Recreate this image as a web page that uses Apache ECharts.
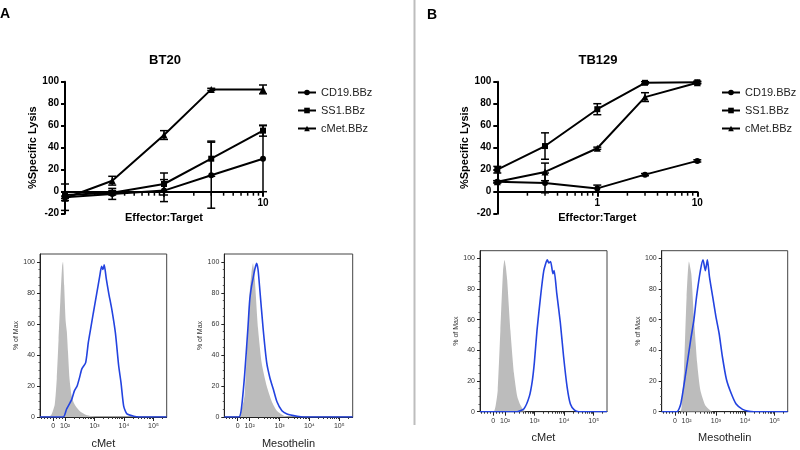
<!DOCTYPE html>
<html><head><meta charset="utf-8">
<script src="https://cdn.jsdelivr.net/npm/echarts@6/dist/echarts.min.js"></script>
<style>html,body{margin:0;padding:0;background:#fff}#c{width:800px;height:450px}</style>
</head><body><div id="c"></div>
<script>
// ---------- data ----------
const seriesNames = ['CD19.BBz', 'SS1.BBz', 'cMet.BBz'];
const etRatio = [0.1, 0.3, 1, 3, 10];
const logMinorTicks = [0.2, 0.3, 0.4, 0.5, 0.6, 0.7, 0.8, 0.9, 2, 3, 4, 5, 6, 7, 8, 9];

// BT20
const bt20CD19 = [-5, -2, 1, 15, 30];
const bt20CD19Err = [12, 5, 10, 30, 30];
const bt20SS1 = [-3, -1, 7, 30, 55.5];
const bt20SS1Err = [3, 2, 10, 16, 5];
const bt20cMet = [-6, 10, 51.5, 93, 93];
const bt20cMetErr = [2, 4, 4, 1, 4];

// TB129
const tb129CD19 = [9, 8, 3, 15.5, 28];
const tb129CD19Err = [1, 9, 3, 1, 1];
const tb129SS1 = [20, 41.5, 75, 99, 99.5];
const tb129SS1Err = [3, 12, 5, 1, 1];
const tb129cMet = [9, 18, 39.5, 86, 99];
const tb129cMetErr = [1, 8, 1, 4, 1];

// flow histograms: x in display decades (10^k -> k), y in % of max
const flowTickPos = [1.6, 2, 3, 4, 5];
const flowTickLabels = ['0', '10²', '10³', '10⁴', '10⁵'];
const flowMinorTicks = [1.2, 1.3, 1.4, 1.5, 1.7, 1.8, 1.9,
  2.301, 2.477, 2.602, 2.699, 2.778, 2.845, 2.903, 2.954,
  3.301, 3.477, 3.602, 3.699, 3.778, 3.845, 3.903, 3.954,
  4.301, 4.477, 4.602, 4.699, 4.778, 4.845, 4.903, 4.954, 5.301];
const flowYTicks = [0, 20, 40, 60, 80, 100];
const flowYMinorTicks = [5, 10, 15, 25, 30, 35, 45, 50, 55, 65, 70, 75, 85, 90, 95];

const bt20cMetGray = [[1.15,0],[1.45,0],[1.55,2],[1.65,8],[1.72,25],[1.78,50],[1.84,75],[1.9,97],[1.93,100],[1.97,85],[2.02,62],[2.06,55],[2.1,42],[2.15,25],[2.22,14],[2.3,9],[2.4,6],[2.55,3],[2.7,1.5],[2.9,0.5],[3.1,0],[5.45,0]];
const bt20cMetBlue = [[1.15,0],[1.94,0],[2.05,5],[2.22,11],[2.32,17],[2.41,20],[2.5,26],[2.57,31],[2.7,35],[2.79,48],[2.88,58],[2.96,67],[3.07,79],[3.18,91],[3.24,97],[3.29,95],[3.33,98],[3.4,89],[3.48,80],[3.59,69],[3.71,54],[3.82,33],[3.9,22],[3.99,7],[4.1,2],[4.33,0.5],[4.5,0],[5.45,0]];
const bt20MesoGray = [[1.15,0],[1.6,0],[1.72,4],[1.83,14],[1.94,57],[2.0,80],[2.06,93],[2.11,99],[2.17,89],[2.28,57],[2.4,35],[2.57,20],[2.74,10],[2.91,4],[3.13,1],[3.3,0],[5.45,0]];
const bt20MesoBlue = [[1.15,0],[1.64,0],[1.72,5],[1.83,27],[1.94,57],[2.0,75],[2.06,84],[2.11,89],[2.17,95],[2.23,99],[2.28,95],[2.34,82],[2.45,57],[2.57,35],[2.68,25],[2.79,18],[2.91,10],[3.08,4],[3.25,2],[3.59,0.5],[3.8,0],[5.45,0]];
const tb129cMetGray = [[1.15,0],[1.61,0],[1.68,4],[1.75,14],[1.84,53],[1.93,92],[1.98,99],[2.02,95],[2.07,86],[2.18,53],[2.3,25],[2.41,10],[2.5,5],[2.59,2],[2.7,0],[5.45,0]];
const tb129cMetBlue = [[1.15,0],[2.41,0],[2.64,2],[2.82,10],[2.92,20],[2.99,32],[3.08,53],[3.2,75],[3.31,92],[3.43,99],[3.48,97],[3.54,98],[3.62,90],[3.66,92],[3.75,77],[3.87,58],[3.98,36],[4.1,16],[4.21,5],[4.35,1],[4.5,0],[5.45,0]];
const tb129MesoGray = [[1.15,0],[1.78,0],[1.85,10],[1.91,27],[2.0,75],[2.08,98],[2.16,90],[2.25,62],[2.36,32],[2.47,14],[2.64,4],[2.8,1],[2.9,0],[5.45,0]];
const tb129MesoBlue = [[1.15,0],[1.67,0],[1.8,5],[1.97,25],[2.14,47],[2.25,60],[2.34,75],[2.47,92],[2.56,99],[2.64,92],[2.71,99],[2.78,88],[2.89,75],[3.0,62],[3.11,51],[3.22,36],[3.36,21],[3.52,12],[3.69,5],[3.91,1.5],[4.13,0.2],[4.3,0],[5.45,0]];

// ---------- build ----------
const FONT = 'Liberation Sans, Arial, sans-serif';
const symbols = ['circle', 'rect', 'triangle'];
const symbolSizes = [6, 6, 7];
const LINE_H = 132, Y_MIN = -20, Y_MAX = 100;

const chart = echarts.init(document.getElementById('c'), null, {renderer: 'canvas'});

const grids = [
  {left: 65, width: 198, top: 81.7, height: LINE_H},
  {left: 497.3, width: 200, top: 81.7, height: LINE_H},
  {left: 40, width: 126.7, top: 254, height: 164.3},
  {left: 224.3, width: 128.4, top: 254, height: 164.3},
  {left: 480, width: 127, top: 250.7, height: 161},
  {left: 661.7, width: 126, top: 250.7, height: 161}
];
grids.forEach((g, i) => {
  if (i >= 2) { g.show = true; g.borderColor = '#444'; g.borderWidth = 1; g.backgroundColor = 'transparent'; }
});

// x axis sits on y = 0 (GraphPad style): shift it up from the grid bottom
const zeroOffset = -LINE_H * (0 - Y_MIN) / (Y_MAX - Y_MIN);

function lineXAxis(gi, labels) {
  return {
    type: 'log', logBase: 10, gridIndex: gi, min: 0.1, max: 10, offset: zeroOffset,
    axisLine: {onZero: false, lineStyle: {color: '#000', width: 2}},
    axisTick: {length: 5, lineStyle: {color: '#000', width: 2}},
    splitLine: {show: false},
    axisLabel: {fontFamily: FONT, fontWeight: 'bold', fontSize: 10, color: '#000', margin: 7,
      formatter: v => labels.indexOf(String(v)) >= 0 ? String(v) : ''},
    name: 'Effector:Target', nameLocation: 'middle', nameGap: 21,
    nameTextStyle: {fontFamily: FONT, fontWeight: 'bold', fontSize: 11, color: '#000'}
  };
}
function lineYAxis(gi, gap) {
  return {
    type: 'value', gridIndex: gi, min: Y_MIN, max: Y_MAX, interval: 20,
    axisLine: {show: true, onZero: false, lineStyle: {color: '#000', width: 2}},
    axisTick: {show: true, length: 4, lineStyle: {color: '#000', width: 2}},
    splitLine: {show: false},
    axisLabel: {fontFamily: FONT, fontWeight: 'bold', fontSize: 10, color: '#000', margin: 6},
    name: '%Specific Lysis', nameLocation: 'middle', nameGap: gap,
    nameTextStyle: {fontFamily: FONT, fontWeight: 'bold', fontSize: 11, color: '#000'}
  };
}
function flowXAxis(gi, name) {
  return {
    type: 'value', gridIndex: gi, min: 1.15, max: 5.45,
    axisLine: {onZero: false, lineStyle: {color: '#222', width: 1}},
    axisTick: {customValues: flowTickPos, length: 4, lineStyle: {color: '#222'}},
    splitLine: {show: false},
    axisLabel: {customValues: flowTickPos, fontFamily: FONT, fontSize: 7, color: '#333', margin: 6,
      formatter: v => { const k = flowTickPos.indexOf(v); return k >= 0 ? flowTickLabels[k] : ''; }},
    name: name, nameLocation: 'middle', nameGap: 21,
    nameTextStyle: {fontFamily: FONT, fontSize: 11, color: '#222'}
  };
}
function flowMinorXAxis(gi) {
  return {
    type: 'value', gridIndex: gi, min: 1.15, max: 5.45, position: 'bottom',
    axisLine: {show: false, onZero: false}, splitLine: {show: false}, axisLabel: {show: false},
    axisTick: {customValues: flowMinorTicks, length: 2, lineStyle: {color: '#333'}}
  };
}
function flowYAxis(gi) {
  return {
    type: 'value', gridIndex: gi, min: 0, max: 105,
    axisLine: {show: true, onZero: false, lineStyle: {color: '#222', width: 1}},
    axisTick: {show: true, customValues: flowYTicks, length: 3, lineStyle: {color: '#222'}},
    splitLine: {show: false},
    axisLabel: {customValues: flowYTicks, fontFamily: FONT, fontSize: 7, color: '#333', margin: 5},
    name: '% of Max', nameLocation: 'middle', nameGap: 16,
    nameTextStyle: {fontFamily: FONT, fontSize: 7, color: '#333'}
  };
}
function flowMinorYAxis(gi) {
  return {
    type: 'value', gridIndex: gi, min: 0, max: 105, position: 'left',
    axisLine: {show: false, onZero: false}, splitLine: {show: false}, axisLabel: {show: false},
    axisTick: {show: true, customValues: flowYMinorTicks, length: 1.5, lineStyle: {color: '#555'}}
  };
}

const xAxes = [
  lineXAxis(0, ['10']),
  lineXAxis(1, ['1', '10']),
  flowXAxis(2, 'cMet'), flowXAxis(3, 'Mesothelin'), flowXAxis(4, 'cMet'), flowXAxis(5, 'Mesothelin'),
  flowMinorXAxis(2), flowMinorXAxis(3), flowMinorXAxis(4), flowMinorXAxis(5)
];
const yAxes = [lineYAxis(0, 26), lineYAxis(1, 22), flowYAxis(2), flowYAxis(3), flowYAxis(4), flowYAxis(5),
  flowMinorYAxis(2), flowMinorYAxis(3), flowMinorYAxis(4), flowMinorYAxis(5)];

const series = [];
function addLineChart(idx, vals, errs) {
  vals.forEach((v, s) => {
    series.push({
      type: 'line', name: seriesNames[s], xAxisIndex: idx, yAxisIndex: idx,
      data: etRatio.map((x, i) => [x, v[i]]),
      symbol: symbols[s], symbolSize: symbolSizes[s], showSymbol: true,
      lineStyle: {color: '#000', width: 2}, itemStyle: {color: '#000'},
      z: 3
    });
    series.push({
      type: 'custom', xAxisIndex: idx, yAxisIndex: idx, silent: true,
      data: etRatio.map((x, i) => [x, v[i] - errs[s][i], v[i] + errs[s][i]]),
      encode: {x: 0, y: [1, 2]},
      renderItem: (params, api) => {
        const x = api.value(0);
        const top = api.coord([x, api.value(2)]);
        const bot = api.coord([x, api.value(1)]);
        const st = {stroke: '#000', lineWidth: 1.5};
        return {type: 'group', children: [
          {type: 'line', shape: {x1: top[0], y1: top[1], x2: bot[0], y2: bot[1]}, style: st},
          {type: 'line', shape: {x1: top[0] - 4, y1: top[1], x2: top[0] + 4, y2: top[1]}, style: st},
          {type: 'line', shape: {x1: bot[0] - 4, y1: bot[1], x2: bot[0] + 4, y2: bot[1]}, style: st}
        ]};
      },
      z: 2
    });
  });
  series.push({
    type: 'custom', xAxisIndex: idx, yAxisIndex: idx, silent: true,
    data: logMinorTicks.map(v => [v, 0]),
    renderItem: (params, api) => {
      const p = api.coord([api.value(0), 0]);
      return {type: 'line', shape: {x1: p[0], y1: p[1], x2: p[0], y2: p[1] + 4}, style: {stroke: '#000', lineWidth: 1.5}};
    },
    z: 1
  });
}
addLineChart(0, [bt20CD19, bt20SS1, bt20cMet], [bt20CD19Err, bt20SS1Err, bt20cMetErr]);
addLineChart(1, [tb129CD19, tb129SS1, tb129cMet], [tb129CD19Err, tb129SS1Err, tb129cMetErr]);

function addFlow(gi, gray, blue) {
  series.push({
    type: 'line', xAxisIndex: gi, yAxisIndex: gi, data: gray, showSymbol: false, smooth: 0.2,
    lineStyle: {width: 0}, areaStyle: {color: '#bcbcbc', opacity: 1}, itemStyle: {color: '#bcbcbc'}, z: 2, silent: true
  });
  series.push({
    type: 'line', xAxisIndex: gi, yAxisIndex: gi, data: blue, showSymbol: false, smooth: 0.2,
    lineStyle: {width: 1.6, color: '#2343e0'}, itemStyle: {color: '#2343e0'}, z: 3, silent: true
  });
}
addFlow(2, bt20cMetGray, bt20cMetBlue);
addFlow(3, bt20MesoGray, bt20MesoBlue);
addFlow(4, tb129cMetGray, tb129cMetBlue);
addFlow(5, tb129MesoGray, tb129MesoBlue);

function legend(left) {
  return {
    orient: 'vertical', left: left, top: 82, data: seriesNames,
    itemWidth: 18, itemHeight: 7, itemGap: 7,
    textStyle: {fontFamily: FONT, fontSize: 11, color: '#222'}
  };
}

chart.setOption({
  animation: false,
  backgroundColor: '#fff',
  grid: grids,
  xAxis: xAxes,
  yAxis: yAxes,
  legend: [legend(292), legend(716)],
  series: series,
  graphic: [
    {type: 'line', shape: {x1: 414.5, y1: 0, x2: 414.5, y2: 425}, style: {stroke: '#bdbdbd', lineWidth: 2}},
    {type: 'text', x: 0, y: 7, style: {text: 'A', font: 'bold 14px ' + FONT, fill: '#000'}},
    {type: 'text', x: 427, y: 8, style: {text: 'B', font: 'bold 14px ' + FONT, fill: '#000'}},
    {type: 'text', x: 165, y: 60, style: {text: 'BT20', font: 'bold 13px ' + FONT, fill: '#000', textAlign: 'center', textVerticalAlign: 'middle'}},
    {type: 'text', x: 598, y: 60, style: {text: 'TB129', font: 'bold 13px ' + FONT, fill: '#000', textAlign: 'center', textVerticalAlign: 'middle'}}
  ]
});
</script></body></html>
